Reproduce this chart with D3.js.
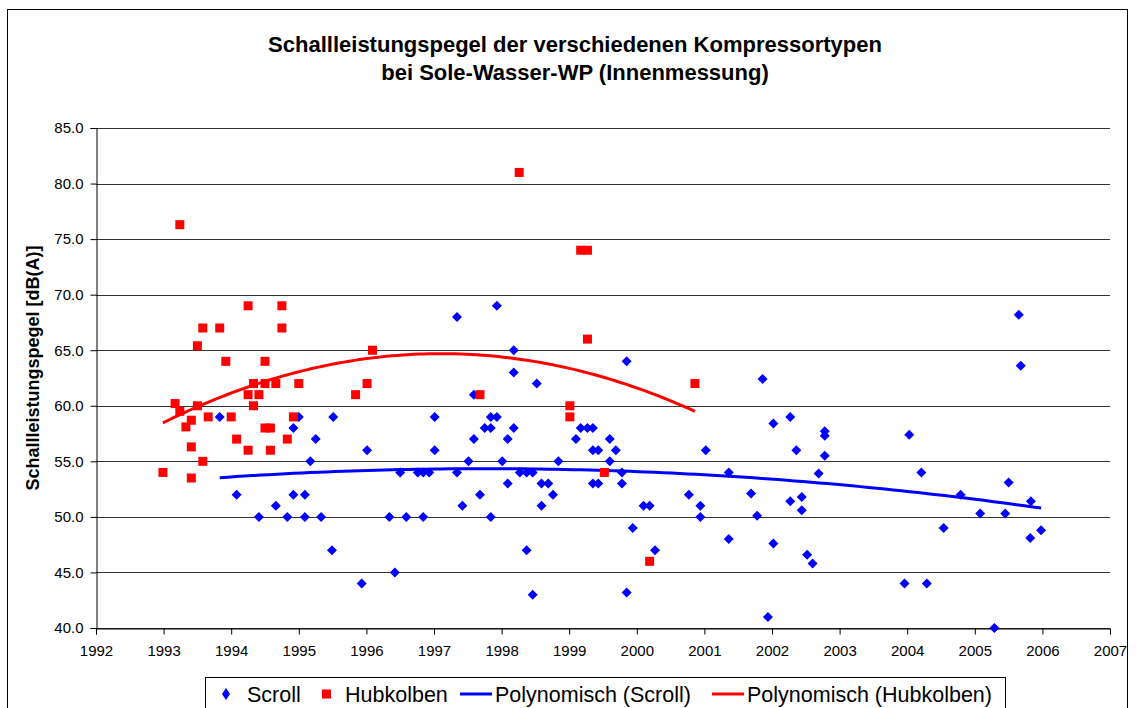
<!DOCTYPE html>
<html>
<head>
<meta charset="utf-8">
<script src="https://cdn.jsdelivr.net/npm/d3@7"></script>
<style>
  body { margin: 0; background: #fff; }
  svg { display: block; font-family: "Liberation Sans", Arial, sans-serif; }
</style>
</head>
<body>
<svg id="chart" width="1136" height="708"></svg>
<script>
// Scroll compressors: [year, dB(A)]
const scroll = [
  [1993.83, 59.0], [1994.08, 52.0], [1994.41, 50.0], [1994.66, 51.0], [1994.83, 50.0],
  [1994.92, 58.0], [1994.92, 52.0], [1995.00, 59.0], [1995.09, 52.0], [1995.09, 50.0],
  [1995.17, 55.0], [1995.25, 57.0], [1995.33, 50.0], [1995.49, 47.0], [1995.51, 59.0],
  [1995.93, 44.0], [1996.01, 56.0], [1996.34, 50.0], [1996.42, 45.0], [1996.50, 54.0],
  [1996.59, 50.0], [1996.76, 54.0], [1996.84, 54.0], [1996.84, 50.0], [1996.93, 54.0],
  [1997.01, 59.0], [1997.01, 56.0], [1997.34, 68.0], [1997.34, 54.0], [1997.42, 51.0],
  [1997.51, 55.0], [1997.59, 61.0], [1997.59, 57.0], [1997.68, 52.0], [1997.75, 58.0],
  [1997.84, 59.0], [1997.84, 58.0], [1997.84, 50.0], [1997.93, 69.0], [1997.93, 59.0],
  [1998.01, 55.0], [1998.09, 57.0], [1998.09, 53.0], [1998.18, 65.0], [1998.18, 63.0],
  [1998.18, 58.0], [1998.27, 54.0], [1998.37, 54.0], [1998.37, 47.0], [1998.46, 54.0],
  [1998.46, 43.0], [1998.52, 62.0], [1998.59, 53.0], [1998.59, 51.0], [1998.69, 53.0],
  [1998.76, 52.0], [1998.84, 55.0], [1999.10, 57.0], [1999.17, 58.0], [1999.27, 58.0],
  [1999.35, 58.0], [1999.35, 56.0], [1999.35, 53.0], [1999.43, 56.0], [1999.43, 53.0],
  [1999.60, 57.0], [1999.60, 55.0], [1999.69, 56.0], [1999.78, 54.0], [1999.78, 53.0],
  [1999.85, 64.0], [1999.85, 43.2], [1999.94, 49.0], [2000.10, 51.0], [2000.19, 51.0],
  [2000.27, 47.0], [2000.77, 52.0], [2000.94, 51.0], [2000.94, 50.0], [2001.02, 56.0],
  [2001.36, 54.0], [2001.36, 48.0], [2001.69, 52.1], [2001.78, 50.1], [2001.86, 62.4],
  [2001.94, 41.0], [2002.02, 58.4], [2002.02, 47.6], [2002.27, 59.0], [2002.27, 51.4],
  [2002.36, 56.0], [2002.44, 51.8], [2002.44, 50.6], [2002.52, 46.6], [2002.60, 45.8],
  [2002.69, 53.9], [2002.78, 57.7], [2002.78, 57.3], [2002.78, 55.5], [2003.96, 44.0],
  [2004.03, 57.4], [2004.21, 54.0], [2004.29, 44.0], [2004.54, 49.0], [2004.79, 52.0],
  [2005.08, 50.3], [2005.29, 40.0], [2005.45, 50.3], [2005.50, 53.1], [2005.65, 68.2],
  [2005.68, 63.6], [2005.82, 48.1], [2005.83, 51.4], [2005.98, 48.8]
];

// Hubkolben (piston) compressors: [year, dB(A)]
const hubkolben = [
  [1992.99, 54.0], [1993.17, 60.2], [1993.24, 76.3], [1993.24, 59.5], [1993.33, 58.1],
  [1993.41, 58.7], [1993.41, 56.3], [1993.41, 53.5], [1993.50, 65.4], [1993.50, 60.0],
  [1993.58, 67.0], [1993.58, 55.0], [1993.66, 59.0], [1993.83, 67.0], [1993.92, 64.0],
  [1994.00, 59.0], [1994.08, 57.0], [1994.25, 69.0], [1994.25, 61.0], [1994.25, 56.0],
  [1994.33, 62.0], [1994.33, 60.0], [1994.41, 61.0], [1994.50, 64.0], [1994.50, 62.0],
  [1994.50, 58.0], [1994.58, 58.0], [1994.58, 56.0], [1994.66, 62.0], [1994.75, 69.0],
  [1994.75, 67.0], [1994.83, 57.0], [1994.92, 59.0], [1995.00, 62.0], [1995.84, 61.0],
  [1996.01, 62.0], [1996.09, 65.0], [1997.68, 61.0], [1998.26, 81.0], [1999.01, 60.0],
  [1999.01, 59.0], [1999.17, 74.0], [1999.27, 74.0], [1999.27, 66.0], [1999.52, 54.0],
  [2000.19, 46.0], [2000.86, 62.0]
];

const xTicks = d3.range(1992, 2008);
const yTicks = [40, 45, 50, 55, 60, 65, 70, 75, 80, 85];
const titleLines = ['Schallleistungspegel der verschiedenen Kompressortypen', 'bei Sole-Wasser-WP (Innenmessung)'];
const legendItems = [
  { label: 'Scroll', kind: 'diamond', color: '#0000ff' },
  { label: 'Hubkolben', kind: 'square', color: '#ff0000' },
  { label: 'Polynomisch (Scroll)', kind: 'line', color: '#0000ff' },
  { label: 'Polynomisch (Hubkolben)', kind: 'line', color: '#ff0000' }
];

const svg = d3.select('#chart');
const M = { left: 96, right: 1110, top: 128, bottom: 628 };

const x = d3.scaleLinear().domain([1992, 2007]).range([M.left, M.right]);
const y = d3.scaleLinear().domain([40, 85]).range([M.bottom, M.top]);

// 2nd order least-squares fit (like the Excel "Polynomisch" trendline)
function polyFit(pts) {
  const mx = d3.mean(pts, d => d[0]);
  let s = [0, 0, 0, 0, 0], t = [0, 0, 0];
  pts.forEach(([px, py]) => {
    const u = px - mx;
    for (let k = 0; k < 5; k++) s[k] += Math.pow(u, k);
    for (let k = 0; k < 3; k++) t[k] += py * Math.pow(u, k);
  });
  const A = [[s[0], s[1], s[2], t[0]], [s[1], s[2], s[3], t[1]], [s[2], s[3], s[4], t[2]]];
  for (let i = 0; i < 3; i++) {
    for (let j = i + 1; j < 3; j++) {
      const f = A[j][i] / A[i][i];
      for (let k = i; k < 4; k++) A[j][k] -= f * A[i][k];
    }
  }
  const c = [0, 0, 0];
  for (let i = 2; i >= 0; i--) {
    let v = A[i][3];
    for (let k = i + 1; k < 3; k++) v -= A[i][k] * c[k];
    c[i] = v / A[i][i];
  }
  const [lo, hi] = d3.extent(pts, d => d[0]);
  return d3.range(0, 101).map(i => {
    const xv = lo + (hi - lo) * i / 100, u = xv - mx;
    return [xv, c[0] + c[1] * u + c[2] * u * u];
  });
}

// outer frame
svg.append('rect').attr('x', 7.5).attr('y', 9.5).attr('width', 1120).attr('height', 740)
  .attr('fill', 'none').attr('stroke', '#000').attr('stroke-width', 1);

// title
svg.append('g').selectAll('text').data(titleLines).enter().append('text')
  .attr('x', 575).attr('y', (d, i) => 52 + i * 28)
  .attr('text-anchor', 'middle').attr('font-size', '22px').attr('font-weight', 'bold')
  .text(d => d);

// gridlines
svg.append('g').selectAll('line').data(yTicks).enter().append('line')
  .attr('x1', M.left).attr('x2', M.right)
  .attr('y1', d => Math.round(y(d)) + 0.5).attr('y2', d => Math.round(y(d)) + 0.5)
  .attr('stroke', '#333').attr('stroke-width', 1);

// axes
const yAxis = svg.append('g').attr('transform', `translate(${M.left + 0.5},0)`)
  .call(d3.axisLeft(y).tickValues(yTicks).tickFormat(d3.format('.1f')).tickSize(6).tickPadding(7));
const xAxis = svg.append('g').attr('transform', `translate(0,${M.bottom + 0.5})`)
  .call(d3.axisBottom(x).tickValues(xTicks).tickFormat(d3.format('d')).tickSize(6).tickPadding(11));
[yAxis, xAxis].forEach(a => {
  a.select('.domain').attr('stroke', '#000');
  a.selectAll('.tick line').attr('stroke', '#000');
  a.selectAll('.tick text').attr('font-size', '15px').attr('fill', '#000')
    .attr('font-family', '"Liberation Sans", Arial, sans-serif');
});

// y label
svg.append('text')
  .attr('transform', 'translate(39,368) rotate(-90)')
  .attr('text-anchor', 'middle').attr('font-size', '18px').attr('font-weight', 'bold')
  .text('Schallleistungspegel [dB(A)]');

// trendlines
const line = d3.line().x(d => x(d[0])).y(d => y(d[1]));
svg.append('path').datum(polyFit(scroll)).attr('d', line)
  .attr('fill', 'none').attr('stroke', '#0000ff').attr('stroke-width', 3);
svg.append('path').datum(polyFit(hubkolben)).attr('d', line)
  .attr('fill', 'none').attr('stroke', '#ff0000').attr('stroke-width', 3);

// markers
svg.append('g').selectAll('path').data(scroll).enter().append('path')
  .attr('transform', d => `translate(${x(d[0])},${y(d[1])})`)
  .attr('d', 'M0,-5L5,0L0,5L-5,0Z')
  .attr('fill', '#0000ff');
svg.append('g').selectAll('rect').data(hubkolben).enter().append('rect')
  .attr('x', d => x(d[0]) - 4.5).attr('y', d => y(d[1]) - 4.5)
  .attr('width', 9).attr('height', 9).attr('fill', '#ff0000');

// legend
const lg = svg.append('g');
lg.append('rect').attr('x', 205.5).attr('y', 677.5).attr('width', 800).attr('height', 45)
  .attr('fill', '#fff').attr('stroke', '#000');
const legendX = [220, 320, 458, 710];
legendItems.forEach((it, i) => {
  const g = lg.append('g').attr('transform', `translate(${legendX[i]},694)`);
  let tx;
  if (it.kind === 'diamond') {
    g.append('path').attr('d', 'M6,-6L10,0L6,6L2,0Z').attr('fill', it.color);
    tx = 27;
  } else if (it.kind === 'square') {
    g.append('rect').attr('x', 2).attr('y', -4.5).attr('width', 9).attr('height', 9).attr('fill', it.color);
    tx = 25;
  } else {
    g.append('line').attr('x1', 2).attr('x2', 34).attr('y1', 0).attr('y2', 0)
      .attr('stroke', it.color).attr('stroke-width', 3);
    tx = 37;
  }
  g.append('text').attr('x', tx).attr('y', 7.5).attr('font-size', '21.5px').text(it.label);
});
</script>
</body>
</html>
